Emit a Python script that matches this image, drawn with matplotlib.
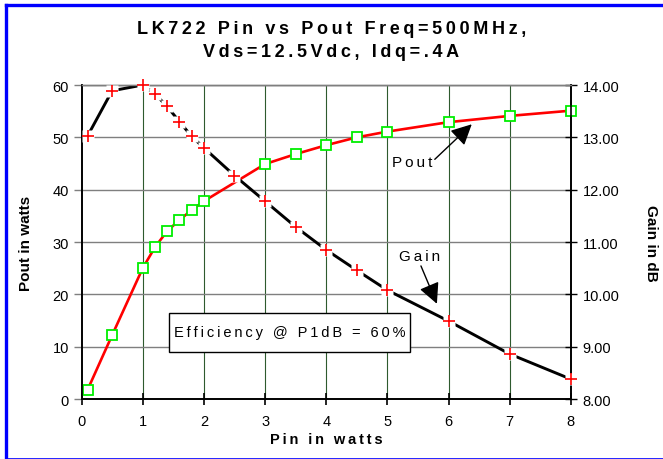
import matplotlib
matplotlib.use("Agg")
import matplotlib.pyplot as plt
from matplotlib.lines import Line2D
from matplotlib.patches import Rectangle

plt.rcParams['font.family'] = ['Liberation Sans', 'DejaVu Sans']

# data
pin_pout = [0.1, 0.5, 1.0, 1.2, 1.4, 1.6, 1.8, 2.0, 3.0, 3.5, 4.0, 4.5, 5.0, 6.0, 7.0, 8.0]
pout = [1.8, 12.2, 25.0, 29.0, 32.1, 34.2, 36.1, 37.8, 44.9, 46.8, 48.5, 50.0, 51.1, 52.9, 54.1, 55.1]

pin_gain = [0.1, 0.5, 1.0, 1.2, 1.4, 1.6, 1.8, 2.0, 2.5, 3.0, 3.5, 4.0, 4.5, 5.0, 6.0, 7.0, 8.0]
gain = [13.03, 13.89, 14.0, 13.83, 13.59, 13.30, 13.02, 12.80, 12.27, 11.78, 11.29, 10.85,
        10.46, 10.08, 9.49, 8.86, 8.38]

x_ticks = [0, 1, 2, 3, 4, 5, 6, 7, 8]
pout_ticks = [0, 10, 20, 30, 40, 50, 60]
gain_ticks = [8, 9, 10, 11, 12, 13, 14]

title = "LK722 Pin vs Pout Freq=500MHz,\nVds=12.5Vdc, Idq=.4A"


def spaced(s):
    # fake letter spacing with thin spaces
    return "\u2009".join(s)


fig = plt.figure(figsize=(6.63, 4.6), dpi=100)
ax = fig.add_axes([0.123, 0.1304, 0.738, 0.6826])
ax2 = ax.twinx()

grid_green = '#2e5a2e'
for x in x_ticks[1:-1]:
    ax.axvline(x, color=grid_green, lw=0.8, zorder=0)
for y in pout_ticks[1:]:
    ax.axhline(y, color='#7f7f7f', lw=1.0, zorder=0)

ax.plot(pin_pout, pout, color='red', lw=1.9, zorder=2)
ax.plot(pin_pout, pout, ls='none', marker='s', ms=6.5, mfc='white', mec='#00ee00', mew=1.3,
        zorder=3, clip_on=False)

ax2.plot(pin_gain, gain, color='black', lw=2.1, zorder=2)
ax2.plot(pin_gain, gain, ls='none', marker='s', ms=9, mfc='white', mec='none', zorder=3)
ax2.plot(pin_gain, gain, ls='none', marker='+', ms=9, mec='red', mew=1.2, zorder=4,
         clip_on=False)

ax.set_xlim(0, 8)
ax.set_ylim(0, 60)
ax2.set_ylim(8, 14)
ax.set_xticks(x_ticks)
ax.set_yticks(pout_ticks)
ax2.set_yticks(gain_ticks)
ax2.set_yticklabels(["%.2f" % g for g in gain_ticks])

for a in (ax, ax2):
    for side in a.spines:
        a.spines[side].set_linewidth(1.2)
    a.spines['top'].set_color('#7f7f7f')
    a.spines['top'].set_linewidth(1.0)

ax.tick_params(axis='x', direction='inout', length=9, width=1.2, labelsize=10.5, pad=6)
ax.tick_params(axis='y', direction='out', length=6, width=1.0, labelsize=10.5, color='#7f7f7f', pad=3)
ax2.tick_params(axis='y', direction='inout', length=9, width=1.0, labelsize=10.5, pad=4)

ax.set_xlabel(spaced("Pin in watts"), fontsize=10.5, fontweight='bold', labelpad=3)
ax.set_ylabel("Pout in watts", fontsize=11, fontweight='bold', labelpad=14)
ax2.set_ylabel("Gain in dB", fontsize=11, fontweight='bold', rotation=270, labelpad=28)

fig.text(0.5, 0.911, "\n".join(spaced(l) for l in title.split("\n")), ha='center', va='center',
         fontsize=13, fontweight='bold', linespacing=1.45)

# efficiency box
ax2.add_patch(Rectangle((0.179, 0.150), 0.492, 0.124, transform=ax.transAxes,
                        facecolor='white', edgecolor='black', lw=1.0, zorder=5))
ax2.text(0.425, 0.212, spaced("Efficiency @ P1dB = 60%"), transform=ax.transAxes,
         ha='center', va='center', fontsize=10.5, zorder=6)

arrow = dict(arrowstyle='-|>,head_length=0.9,head_width=0.45', color='black', lw=1.0,
             shrinkA=0, shrinkB=0, mutation_scale=14)
ax2.annotate(spaced("Pout"), xy=(6.38, 52.5), xytext=(5.40, 45.3), xycoords=ax.transData,
             textcoords=ax.transData, ha='center', va='center', fontsize=11,
             arrowprops=dict(arrow, relpos=(1.0, 0.5)), zorder=6)
ax2.annotate(spaced("Gain"), xy=(5.81, 18.2), xytext=(5.53, 27.3), xycoords=ax.transData,
             textcoords=ax.transData, ha='center', va='center', fontsize=11,
             arrowprops=dict(arrow, relpos=(0.5, 0.0)), zorder=6)

# blue frame
fig.add_artist(Line2D([5.5 / 663, 1], [1 - 5.5 / 460] * 2, color='#0000ff', lw=2.4))
fig.add_artist(Line2D([5.5 / 663] * 2, [0.002, 1 - 5.5 / 460], color='#0000ff', lw=2.4))
fig.add_artist(Line2D([5.5 / 663, 1], [0.5 / 460] * 2, color='#0000ff', lw=1.2))

fig.savefig("out.png", dpi=100)
